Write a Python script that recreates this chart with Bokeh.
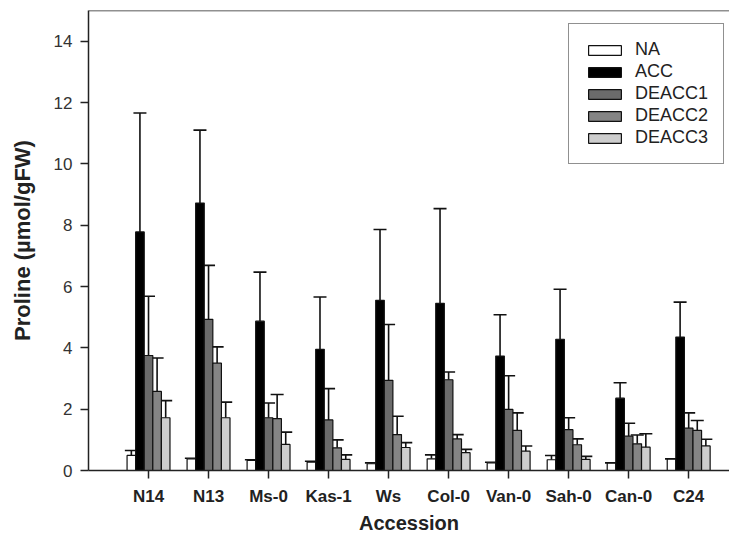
import numpy as np
from bokeh.plotting import figure
from bokeh.models import (ColumnDataSource, Whisker, TeeHead, FixedTicker, Span,
                          Legend, LegendItem)
from bokeh.embed import file_html
from bokeh.resources import INLINE

accessions = ["N14", "N13", "Ms-0", "Kas-1", "Ws", "Col-0", "Van-0", "Sah-0", "Can-0", "C24"]
series = ["NA", "ACC", "DEACC1", "DEACC2", "DEACC3"]

na_mean = [0.49, 0.38, 0.33, 0.27, 0.22, 0.38, 0.25, 0.35, 0.24, 0.37]
na_se = [0.16, 0.02, 0.02, 0.03, 0.03, 0.13, 0.02, 0.14, 0.01, 0.01]
acc_mean = [7.78, 8.72, 4.87, 3.95, 5.55, 5.45, 3.73, 4.28, 2.36, 4.35]
acc_se = [3.88, 2.38, 1.60, 1.71, 2.31, 3.09, 1.35, 1.63, 0.50, 1.14]
deacc1_mean = [3.75, 4.93, 1.72, 1.65, 2.94, 2.96, 1.99, 1.33, 1.12, 1.38]
deacc1_se = [1.93, 1.76, 0.48, 1.02, 1.82, 0.25, 1.10, 0.39, 0.42, 0.50]
deacc2_mean = [2.58, 3.50, 1.69, 0.74, 1.17, 1.03, 1.31, 0.84, 0.87, 1.31]
deacc2_se = [1.09, 0.53, 0.79, 0.26, 0.60, 0.14, 0.57, 0.19, 0.29, 0.32]
deacc3_mean = [1.72, 1.72, 0.85, 0.36, 0.75, 0.58, 0.63, 0.36, 0.76, 0.80]
deacc3_se = [0.56, 0.51, 0.40, 0.15, 0.16, 0.11, 0.17, 0.10, 0.44, 0.22]

means = [na_mean, acc_mean, deacc1_mean, deacc2_mean, deacc3_mean]
ses = [na_se, acc_se, deacc1_se, deacc2_se, deacc3_se]
colors = ["#ffffff", "#000000", "#6b6b6b", "#858585", "#cdcdcd"]

FONT = "Liberation Sans"
bar_w = 0.143

p = figure(width=729, height=537, x_range=(-1, 9.68), y_range=(0, 15),
           output_backend="svg", toolbar_location=None,
           min_border_left=88, min_border_top=10, min_border_right=0,
           min_border_bottom=67)
p.outline_line_color = None
p.xgrid.visible = False
p.ygrid.visible = False

base_x = np.arange(len(accessions))
items = []
for k, name in enumerate(series):
    xs = base_x + (k - 2) * bar_w
    m = np.array(means[k])
    up = m + np.array(ses[k])
    src = ColumnDataSource(dict(x=xs, top=m, upper=up))
    w = Whisker(base="x", upper="upper", lower="top", source=src,
                upper_head=TeeHead(size=13, line_width=1.6, line_color="#111111"),
                lower_head=None, line_width=1.6, line_color="#111111")
    p.add_layout(w)
    r = p.vbar(x="x", top="top", width=bar_w, bottom=0, source=src,
               fill_color=colors[k], line_color="#111111", line_width=1.2)
    items.append(LegendItem(label=name, renderers=[r]))

# top frame line
p.add_layout(Span(location=15, dimension="width", line_color="#222222", line_width=1.5))

legend = Legend(items=items, location=(480, 306))
legend.border_line_color = "#222222"
legend.border_line_width = 1.5
legend.background_fill_color = "white"
legend.background_fill_alpha = 1
legend.label_text_font = FONT
legend.label_text_font_size = "18px"
legend.label_text_color = "#222222"
legend.glyph_width = 41
legend.glyph_height = 12
legend.label_height = 20
legend.spacing = 1
legend.padding = 15
legend.label_standoff = 10
legend.margin = 0
p.add_layout(legend)

# y axis
ya = p.yaxis[0]
ya.ticker = FixedTicker(ticks=[0, 2, 4, 6, 8, 10, 12, 14])
ya.minor_tick_line_color = None
ya.major_tick_out = 8
ya.major_tick_in = 0
ya.axis_line_width = 1.5
ya.axis_line_color = "#222222"
ya.major_tick_line_width = 1.5
ya.major_tick_line_color = "#222222"
ya.major_label_text_font = FONT
ya.major_label_text_font_size = "17px"
ya.major_label_text_color = "#333333"
ya.major_label_standoff = 8
ya.axis_label = "Proline (µmol/gFW)"
ya.axis_label_text_font = FONT
ya.axis_label_text_font_size = "22px"
ya.axis_label_text_font_style = "bold"
ya.axis_label_text_color = "#222222"
ya.axis_label_standoff = 16

# x axis
xa = p.xaxis[0]
xa.ticker = FixedTicker(ticks=list(range(len(accessions))))
xa.major_label_overrides = {i: a for i, a in enumerate(accessions)}
xa.minor_tick_line_color = None
xa.major_tick_out = 8
xa.major_tick_in = 0
xa.axis_line_width = 1.5
xa.axis_line_color = "#222222"
xa.major_tick_line_width = 1.5
xa.major_tick_line_color = "#222222"
xa.major_label_text_font = FONT
xa.major_label_text_font_size = "17px"
xa.major_label_text_font_style = "bold"
xa.major_label_text_color = "#222222"
xa.major_label_standoff = 8
xa.axis_label = "Accession"
xa.axis_label_text_font = FONT
xa.axis_label_text_font_size = "20px"
xa.axis_label_text_font_style = "bold"
xa.axis_label_text_color = "#222222"
xa.axis_label_standoff = 3

open("out.html", "w").write(file_html(p, INLINE))
